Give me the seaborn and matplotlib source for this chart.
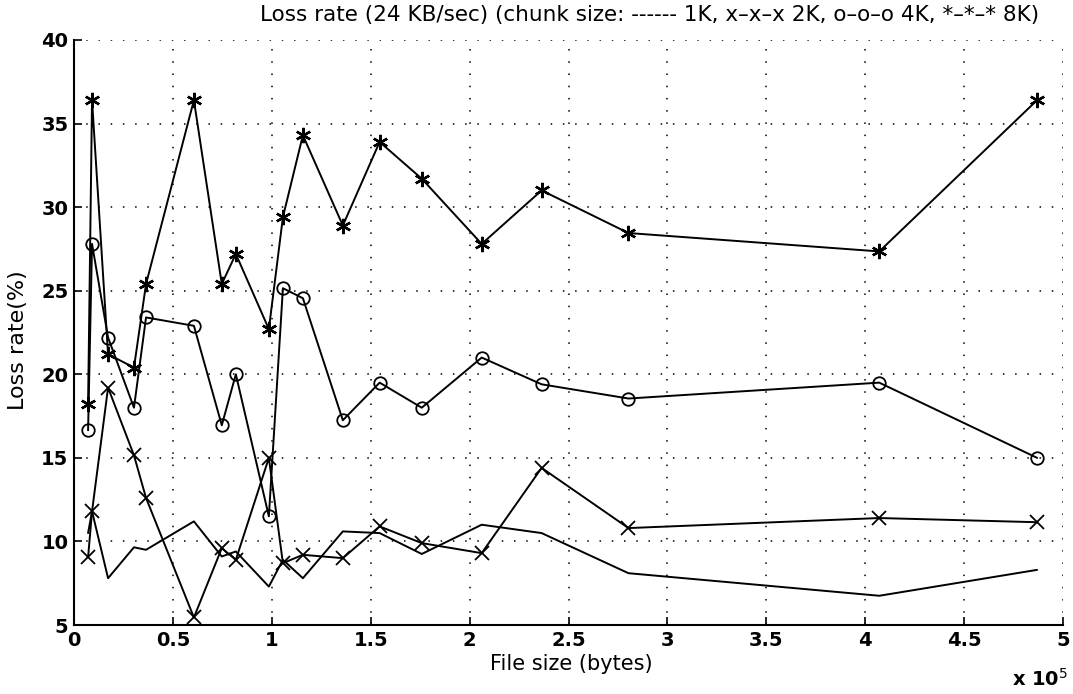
import matplotlib
matplotlib.use("Agg")
import matplotlib.pyplot as plt
import seaborn as sns
import pandas as pd

# File sizes (bytes)
file_size = [7100, 9100, 17200, 30300, 36400, 60600, 74700, 81800, 98500, 105600,
             115700, 135900, 154500, 175800, 206100, 236400, 280300, 407100, 486900]

loss_1k = [10.5, 11.8, 7.8, 9.65, 9.5, 11.2, 9.1, 9.4, 7.3, 8.9,
           7.8, 10.6, 10.5, 9.25, 11.0, 10.5, 8.1, 6.75, 8.3]
loss_2k = [9.05, 11.8, 19.2, 15.15, 12.6, 5.45, 9.6, 8.9, 15.0, 8.7,
           9.2, 9.0, 10.9, 9.9, 9.3, 14.4, 10.8, 11.4, 11.15]
loss_4k = [16.65, 27.8, 22.2, 18.0, 23.4, 22.9, 16.95, 20.0, 11.5, 25.15,
           24.55, 17.25, 19.5, 18.0, 21.0, 19.4, 18.55, 19.5, 15.0]
loss_8k = [18.2, 36.4, 21.2, 20.4, 25.4, 36.4, 25.4, 27.2, 22.7, 29.4,
           34.3, 28.9, 33.9, 31.7, 27.8, 31.0, 28.45, 27.35, 36.4]

x_ticks = [0, 50000, 100000, 150000, 200000, 250000, 300000, 350000, 400000, 450000, 500000]
x_tick_labels = ["0", "0.5", "1", "1.5", "2", "2.5", "3", "3.5", "4", "4.5", "5"]
y_ticks = [5, 10, 15, 20, 25, 30, 35, 40]

title = "Loss rate (24 KB/sec) (chunk size: ------ 1K, x\u2013x\u2013x 2K, o\u2013o\u2013o 4K, *\u2013*\u2013* 8K)"

sns.set_style("white")
plt.rcParams['font.family'] = ['DejaVu Sans']
plt.rcParams['text.color'] = 'black'

fig = plt.figure(figsize=(10.73, 6.94), dpi=100)
ax = fig.add_axes([0.069, 0.0994, 0.9217, 0.843])

series = [
    (loss_1k, None, {}),
    (loss_2k, "x", dict(markersize=10, markeredgewidth=1.3)),
    (loss_4k, "o", dict(markersize=9, markerfacecolor="none", markeredgewidth=1.3)),
    (loss_8k, (6, 2, 0), dict(markersize=11, markeredgewidth=1.7)),
]
for vals, mk, kw in series:
    df = pd.DataFrame({"size": file_size, "loss": vals})
    if mk is None:
        sns.lineplot(data=df, x="size", y="loss", ax=ax, color="black", linewidth=1.4,
                     sort=False, estimator=None)
    else:
        sns.lineplot(data=df, x="size", y="loss", ax=ax, color="black", linewidth=1.4,
                     sort=False, estimator=None, marker=mk, markeredgecolor="black", **kw)

ax.set_xlim(0, 500000)
ax.set_ylim(5, 40)
ax.set_xticks(x_ticks)
ax.set_xticklabels(x_tick_labels)
ax.set_yticks(y_ticks)
ax.set_yticklabels([str(v) for v in y_ticks])

ax.grid(True, color="black", linestyle=(0, (1, 7)), linewidth=1.1)
for s in ["top", "right"]:
    ax.spines[s].set_visible(False)
for s in ["left", "bottom"]:
    ax.spines[s].set_color("black")
    ax.spines[s].set_linewidth(1.5)
ax.tick_params(direction="in", length=6, width=1.2, colors="black", labelcolor="black",
               labelsize=14, pad=4, top=False, right=False, bottom=True, left=True)
for lab in ax.get_xticklabels() + ax.get_yticklabels():
    lab.set_fontweight("bold")

ax.set_xlabel("")
ax.set_ylabel("")
fig.text(571 / 1073, 1 - 664 / 694, "File size (bytes)", ha="center", va="center",
         fontsize=15, color="black")
fig.text(18 / 1073, 1 - 340 / 694, "Loss rate(%)", ha="center", va="center",
         rotation=90, fontsize=16, color="black")
fig.text(650 / 1073, 1 - 15 / 694, title, ha="center", va="center", fontsize=15.5,
         color="black")
fig.text(1068 / 1073, 1 - 690 / 694, r"x 10$^5$", ha="right", va="bottom",
         fontsize=14, fontweight="bold", color="black")

fig.savefig("out.png", dpi=100, facecolor="white")
